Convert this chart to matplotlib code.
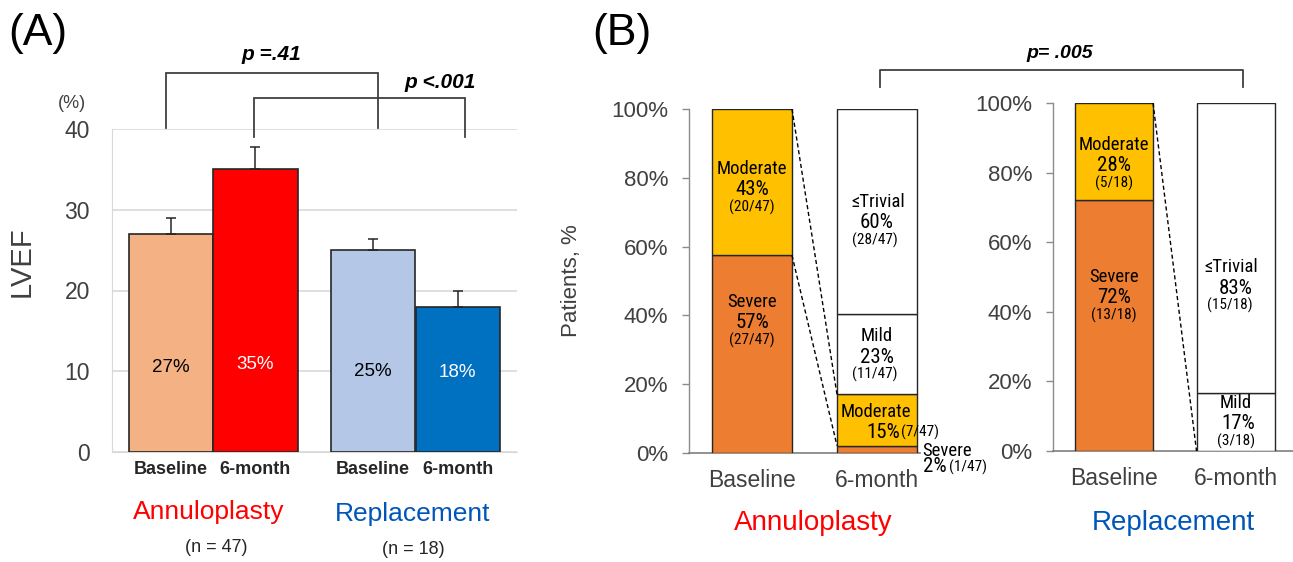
import matplotlib
matplotlib.use("Agg")
import matplotlib.pyplot as plt
from matplotlib import font_manager
from matplotlib.lines import Line2D
import numpy as np

# ---------------- data ----------------
# Panel A: LVEF
lvef_groups = ["Annuloplasty", "Replacement"]
lvef_ticklabels = ["Baseline", "6-month", "Baseline", "6-month"]
lvef_values = [27, 35, 25, 18]
lvef_err_up = [2.0, 2.8, 1.4, 2.0]
lvef_n = [47, 18]

# Panel B: TR severity counts (bottom -> top)
severity_names = ["Severe", "Moderate", "Mild", "\u2264Trivial"]
annulo_baseline = [27, 20, 0, 0]
annulo_6month = [1, 7, 11, 28]
repl_baseline = [13, 5, 0, 0]
repl_6month = [0, 0, 3, 15]
b_ticklabels = ["Baseline", "6-month"]

p_values = ["p =.41", "p <.001", "p= .005"]

# ---------------- style ----------------
plt.rcParams['font.family'] = ['Liberation Sans', 'DejaVu Sans']
names = {f.name for f in font_manager.fontManager.ttflist}
narrow = None
for cand in ['Liberation Sans Narrow', 'Arial Narrow', 'Arimo Narrow', 'Roboto Condensed',
             'Archivo Narrow', 'PT Sans Narrow']:
    if cand in names:
        narrow = cand
        break
if narrow:
    nfam = [narrow, 'Liberation Sans', 'DejaVu Sans']
    fs_name, fs_pct, fs_frac = 13.5, 15, 11
else:
    nfam = ['Liberation Sans', 'DejaVu Sans']
    fs_name, fs_pct, fs_frac = 12, 13.5, 9.5

W, H = 1293, 562
fig = plt.figure(figsize=(W / 100, H / 100), dpi=100)


def rect(l, t, r, b):
    return [l / W, 1 - b / H, (r - l) / W, (b - t) / H]


def fx(px):
    return px / W


def fy(py):
    return 1 - py / H


DARK = '#404040'
RED = '#FF0000'
BLUE = '#0056B8'

# ================= Panel A =================
axA = fig.add_axes(rect(112, 129, 517, 452))
xA = np.array([0, 1, 2.38, 3.38])
colorsA = ['#F4B183', '#FF0000', '#B4C7E7', '#0070C0']
axA.bar(xA, lvef_values, width=0.99, color=colorsA, edgecolor='#262626', linewidth=1.2, zorder=3)
axA.errorbar(xA, lvef_values, yerr=[np.zeros(4), lvef_err_up], fmt='none',
             ecolor='#262626', elinewidth=1.1, capsize=3.5, capthick=1.1, zorder=4)
axA.set_ylim(0, 40)
axA.set_xlim(-0.69, 4.08)
axA.set_yticks([0, 10, 20, 30, 40])
axA.yaxis.grid(True, color='#D9D9D9', linewidth=1.2)
axA.set_axisbelow(True)
for s in ['top', 'right']:
    axA.spines[s].set_visible(False)
axA.spines['left'].set_color('#D9D9D9')
axA.spines['bottom'].set_color('#D9D9D9')
axA.tick_params(axis='y', length=0, labelsize=16.5, labelcolor=DARK, pad=16)
axA.set_xticks(xA)
axA.set_xticklabels(lvef_ticklabels, fontsize=13, fontweight='bold', color='#262626')
axA.tick_params(axis='x', length=0, pad=6.5)

label_y = [10.5, 10.8, 10.0, 9.8]
label_col = ['black', 'white', 'black', 'white']
for xi, v, ly, c in zip(xA, lvef_values, label_y, label_col):
    axA.text(xi, ly, f"{v}%", ha='center', va='center', fontsize=13.5, color=c, zorder=5)

# brackets A
def bracket(ax, x1, x2, ytop, yl, yr):
    ax.plot([x1, x1, x2, x2], [yl, ytop, ytop, yr], color='#404040', lw=1.3,
            clip_on=False, solid_joinstyle='miter')

bracket(axA, xA[0] - 0.05, xA[2] + 0.06, 46.9, 40.1, 40.1)
bracket(axA, xA[1] - 0.02, xA[3] + 0.09, 43.85, 39.0, 39.0)
axA.text(1.19, 49.2, p_values[0], ha='center', va='center', fontsize=15,
         fontweight='bold', style='italic', clip_on=False)
axA.text(3.17, 45.8, p_values[1], ha='center', va='center', fontsize=15,
         fontweight='bold', style='italic', clip_on=False)

fig.text(fx(72), fy(103), "(%)", ha='center', va='center', fontsize=13, color=DARK)
fig.text(fx(22), fy(262), "LVEF", ha='center', va='center', fontsize=21, color=DARK, rotation=90)
fig.text(fx(38), fy(33), "(A)", ha='center', va='center', fontsize=32)

fig.text(fx(209), fy(512), lvef_groups[0], ha='center', va='center', fontsize=19, color=RED)
fig.text(fx(413), fy(514), lvef_groups[1], ha='center', va='center', fontsize=19, color=BLUE)
fig.text(fx(216), fy(548), f"(n = {lvef_n[0]})", ha='center', va='center', fontsize=13, color='#262626')
fig.text(fx(413), fy(550), f"(n = {lvef_n[1]})", ha='center', va='center', fontsize=13, color='#262626')

# ================= Panel B =================
seg_colors = ['#ED7D31', '#FFC000', 'white', 'white']


def stacked(ax, counts_list, width):
    for xi, counts in enumerate(counts_list):
        n = sum(counts)
        pcts = [c / n * 100 for c in counts]
        bottom = 0
        for p, col in zip(pcts, seg_colors):
            if p > 0:
                ax.bar(xi, p, bottom=bottom, width=width, color=col,
                       edgecolor='#262626', linewidth=1.0, zorder=3)
            bottom += p


def style_b(ax):
    ax.set_ylim(0, 100)
    ax.set_yticks([0, 20, 40, 60, 80, 100])
    ax.set_yticklabels([f"{v}%" for v in [0, 20, 40, 60, 80, 100]])
    for s in ['top', 'right']:
        ax.spines[s].set_visible(False)
    ax.spines['left'].set_color('#8C8C8C')
    ax.spines['bottom'].set_color('#7F7F7F')
    ax.spines['left'].set_linewidth(1.0)
    ax.spines['bottom'].set_linewidth(1.2)
    ax.tick_params(axis='y', length=5, width=1, color='#8C8C8C', direction='out',
                   labelsize=16, labelcolor=DARK, pad=10)
    ax.set_xticks([0, 1])
    ax.set_xticklabels(b_ticklabels, fontsize=16.5, color=DARK)
    ax.tick_params(axis='x', length=0, pad=11.5)


def seg_label(ax, x, y, name, pct, frac, dx_name=0, dx_frac=0, dy_name=21, dy_frac=-17):
    ax.annotate(name, (x, y), xytext=(dx_name, dy_name), textcoords='offset pixels',
                ha='center', va='center', fontsize=fs_name, family=nfam, zorder=6,
                annotation_clip=False)
    ax.annotate(pct, (x, y), ha='center', va='center', fontsize=fs_pct, family=nfam,
                zorder=6, annotation_clip=False)
    ax.annotate(frac, (x, y), xytext=(dx_frac, dy_frac), textcoords='offset pixels',
                ha='center', va='center', fontsize=fs_frac, family=nfam, zorder=6,
                annotation_clip=False)


def pct_txt(c, n):
    return f"{round(c / n * 100)}%"


# ---- B left: Annuloplasty ----
axB1 = fig.add_axes(rect(689, 109, 920, 453))
wB1 = 0.64
stacked(axB1, [annulo_baseline, annulo_6month], wB1)
axB1.set_xlim(-0.504, 1.344)
style_b(axB1)
axB1.set_ylabel("Patients, %", fontsize=16, color=DARK)
axB1.yaxis.set_label_coords((582 - 689) / (920 - 689), 0.5)
nA = sum(annulo_baseline)

# dashed connectors
cb = np.cumsum(annulo_baseline) / nA * 100
c6 = np.cumsum(annulo_6month) / nA * 100
axB1.plot([wB1 / 2, 1 - wB1 / 2], [100, c6[1]], color='black', lw=1, ls=(0, (3, 2)), zorder=4)
axB1.plot([wB1 / 2, 1 - wB1 / 2], [cb[0], c6[0]], color='black', lw=1, ls=(0, (3, 2)), zorder=4)

seg_label(axB1, 0, 76.5, severity_names[1], pct_txt(annulo_baseline[1], nA), f"({annulo_baseline[1]}/{nA})")
seg_label(axB1, 0, 37.8, severity_names[0], pct_txt(annulo_baseline[0], nA), f"({annulo_baseline[0]}/{nA})")
seg_label(axB1, 1, 66.9, severity_names[3], pct_txt(annulo_6month[3], nA), f"({annulo_6month[3]}/{nA})",
          dx_name=1, dx_frac=-2)
seg_label(axB1, 1, 27.9, severity_names[2], pct_txt(annulo_6month[2], nA), f"({annulo_6month[2]}/{nA})",
          dx_frac=-2)
# 6-month moderate (special layout)
axB1.annotate(severity_names[1], (1, 6.1), xytext=(-1, 20), textcoords='offset pixels',
              ha='center', va='center', fontsize=fs_name, family=nfam, zorder=6)
axB1.annotate(pct_txt(annulo_6month[1], nA), (1, 6.1), xytext=(6, 0), textcoords='offset pixels',
              ha='center', va='center', fontsize=fs_pct, family=nfam, zorder=6)
axB1.annotate(f"({annulo_6month[1]}/{nA})", (1, 6.1), xytext=(43, 0), textcoords='offset pixels',
              ha='center', va='center', fontsize=fs_frac, family=nfam, zorder=6,
              annotation_clip=False)
# 6-month severe (outside)
axB1.annotate(severity_names[0], (1, 0.6), xytext=(45, 0), textcoords='offset pixels',
              ha='left', va='center', fontsize=fs_name, family=nfam, zorder=6,
              annotation_clip=False)
axB1.annotate(pct_txt(annulo_6month[0], nA), (1, 0.6), xytext=(46, -16), textcoords='offset pixels',
              ha='left', va='center', fontsize=fs_pct, family=nfam, zorder=6,
              annotation_clip=False)
axB1.annotate(f"({annulo_6month[0]}/{nA})", (1, 0.6), xytext=(72, -16), textcoords='offset pixels',
              ha='left', va='center', fontsize=fs_frac, family=nfam, zorder=6,
              annotation_clip=False)

# ---- B right: Replacement ----
axB2 = fig.add_axes(rect(1053, 103, 1293, 451))
wB2 = 0.642
stacked(axB2, [repl_baseline, repl_6month], wB2)
axB2.set_xlim(-0.502, 1.473)
style_b(axB2)
nR = sum(repl_baseline)
axB2.plot([wB2 / 2, 1 - wB2 / 2], [100, 0], color='black', lw=1, ls=(0, (3, 2)), zorder=4)

seg_label(axB2, 0, 81.9, severity_names[1], pct_txt(repl_baseline[1], nR), f"({repl_baseline[1]}/{nR})")
seg_label(axB2, 0, 44.0, severity_names[0], pct_txt(repl_baseline[0], nR), f"({repl_baseline[0]}/{nR})")
seg_label(axB2, 1, 46.6, severity_names[3], pct_txt(repl_6month[3], nR), f"({repl_6month[3]}/{nR})",
          dx_name=-4, dx_frac=-6, dy_name=22)
axB2.annotate(severity_names[2], (1, 8.0), xytext=(0, 20), textcoords='offset pixels',
              ha='center', va='center', fontsize=fs_name, family=nfam, zorder=6)
axB2.annotate(pct_txt(repl_6month[2], nR), (1, 8.0), xytext=(3, 0), textcoords='offset pixels',
              ha='center', va='center', fontsize=fs_pct, family=nfam, zorder=6)
axB2.annotate(f"({repl_6month[2]}/{nR})", (1, 8.0), xytext=(1, -18), textcoords='offset pixels',
              ha='center', va='center', fontsize=fs_frac, family=nfam, zorder=6)

# group labels B
fig.text(fx(813), fy(523), lvef_groups[0], ha='center', va='center', fontsize=20, color=RED)
fig.text(fx(1173), fy(523), lvef_groups[1], ha='center', va='center', fontsize=20, color=BLUE)
fig.text(fx(622), fy(33), "(B)", ha='center', va='center', fontsize=32)

# bracket B
bx = [fx(880), fx(880), fx(1243), fx(1243)]
by = [fy(87), fy(70), fy(70), fy(87)]
fig.add_artist(Line2D(bx, by, transform=fig.transFigure, color='#404040', lw=1.3))
fig.text(fx(1060), fy(53), p_values[2], ha='center', va='center', fontsize=14,
         fontweight='bold', style='italic')

fig.savefig("out.png", dpi=100)
